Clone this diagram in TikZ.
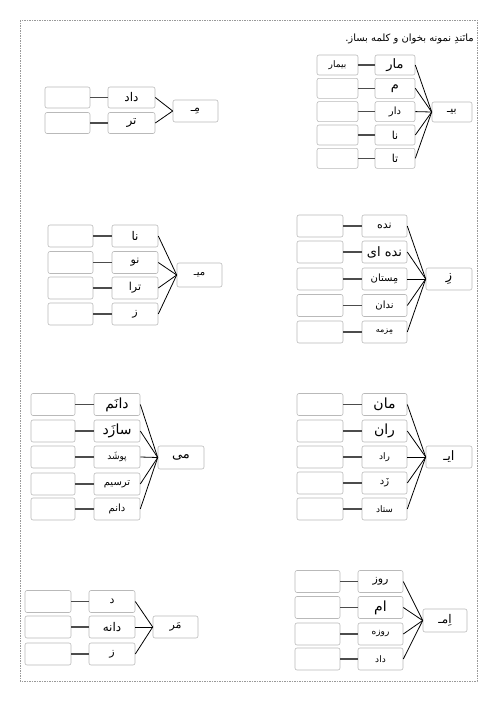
\documentclass[tikz,border=0pt]{standalone}
\usepackage{fontspec}
\newfontfamily\arabicfont[Script=Arabic]{DejaVu Sans}
\TeXXeTstate=1
\newcommand\ar[1]{\arabicfont\beginR #1\endR}
\tikzset{
  cell/.style={draw=gray!55, rounded corners=2pt, line width=0.6pt, inner sep=0pt, minimum height=\H pt},
  link/.style={draw=black!70, line width=1.1pt},
  spoke/.style={draw=black, line width=0.8pt},
  frame/.style={draw=gray!80, line width=1pt, dash pattern=on 1.5pt off 1pt}
}
\def\H{22}
\newcommand\grow[5]{%
  \node[cell, minimum width=\Lw pt] (#1L) at (\Lx,#2) {\fontsize{9}{9}\selectfont\ar{#5}};
  \node[cell, minimum width=\Mw pt] (#1M) at (\Mx,#2) {\fontsize{#3}{#3}\selectfont\ar{#4}};
  \draw[link] (#1L.east) -- (#1M.west);
}
\begin{document}
\begin{tikzpicture}[x=1pt,y=-1pt]
\useasboundingbox (0,0) rectangle (496,702);
\draw[frame] (20,20) rectangle (477,681);
\node[anchor=east, inner sep=0pt] (title) at (474,39) {\fontsize{10}{10}\selectfont\ar{مانَندِ نمونه بخوان و کلمه بساز.}};

% group 1
\def\H{20}\def\Lx{337.5}\def\Lw{41}\def\Mx{395}\def\Mw{40}
\grow{a1}{65}{13}{مار}{بیمار}
\grow{a2}{88.3}{13}{م}{}
\grow{a3}{111.6}{10}{دار}{}
\grow{a4}{135}{11}{نا}{}
\grow{a5}{158.3}{11}{تا}{}
\node[cell, minimum width=40pt] (aR) at (452,112) {\fontsize{11}{11}\selectfont\ar{بیـ}};
\foreach \n in {a1,a2,a3,a4,a5} \draw[spoke] (\n M.east) -- (aR.west);

% group 2
\def\H{21}\def\Lx{67.5}\def\Lw{45}\def\Mx{131.5}\def\Mw{47}
\grow{b1}{97.5}{12}{داد}{}
\grow{b2}{123}{12}{تر}{}
\def\H{22}
\node[cell, minimum width=45pt] (bR) at (195.5,111) {\fontsize{11}{11}\selectfont\ar{مِـ}};
\foreach \n in {b1,b2} \draw[spoke] (\n M.east) -- (bR.west);

% group 3
\def\H{22}\def\Lx{320}\def\Lw{46}\def\Mx{384.5}\def\Mw{45}
\grow{c1}{226}{11}{نده}{}
\grow{c2}{252}{13}{نده ای}{}
\grow{c3}{279}{10}{مِستان}{}
\grow{c4}{305.5}{10}{ندان}{}
\grow{c5}{332}{8}{مِزمه}{}
\node[cell, minimum width=46pt] (cR) at (449,279) {\fontsize{13}{13}\selectfont\ar{زِ}};
\foreach \n in {c1,c2,c3,c4,c5} \draw[spoke] (\n M.east) -- (cR.west);

% group 4
\def\H{22}\def\Lx{70.5}\def\Lw{45}\def\Mx{135}\def\Mw{46}
\grow{d1}{236}{12}{نا}{}
\grow{d2}{262.5}{11}{نو}{}
\grow{d3}{288}{11}{ترا}{}
\grow{d4}{314}{11}{ز}{}
\def\H{24}
\node[cell, minimum width=45pt] (dR) at (199.5,275) {\fontsize{10}{10}\selectfont\ar{میـ}};
\foreach \n in {d1,d2,d3,d4} \draw[spoke] (\n M.east) -- (dR.west);

% group 5
\def\H{22}\def\Lx{320}\def\Lw{46}\def\Mx{384.5}\def\Mw{45}
\grow{e1}{404.5}{14}{مان}{}
\grow{e2}{431}{14}{ران}{}
\grow{e3}{457}{9}{راد}{}
\grow{e4}{483}{10}{زَد}{}
\grow{e5}{509}{9}{ستاد}{}
\node[cell, minimum width=46pt] (eR) at (449,457) {\fontsize{13}{13}\selectfont\ar{ایـ}};
\foreach \n in {e1,e2,e3,e4,e5} \draw[spoke] (\n M.east) -- (eR.west);

% group 6
\def\H{22}\def\Lx{53}\def\Lw{44}\def\Mx{117}\def\Mw{46}
\grow{f1}{404.5}{14}{دانَم}{}
\grow{f2}{431}{14}{سازَد}{}
\grow{f3}{457}{9}{پوشَد}{}
\grow{f4}{484}{10}{ترسیم}{}
\grow{f5}{509}{10}{دانم}{}
\def\H{23}
\node[cell, minimum width=46pt] (fR) at (181,457.5) {\fontsize{13}{13}\selectfont\ar{می}};
\foreach \n in {f1,f2,f3,f4,f5} \draw[spoke] (\n M.east) -- (fR.west);

% group 7
\def\H{22}\def\Lx{317.5}\def\Lw{45}\def\Mx{380.5}\def\Mw{45}
\grow{g1}{581.5}{11}{روز}{}
\grow{g2}{607.5}{14}{ام}{}
\grow{g3}{634}{9}{روزه}{}
\grow{g4}{659}{9}{داد}{}
\def\H{23}
\node[cell, minimum width=44pt] (gR) at (445,620.5) {\fontsize{12}{12}\selectfont\ar{اِمـ}};
\foreach \n in {g1,g2,g3,g4} \draw[spoke] (\n M.east) -- (gR.west);

% group 8
\def\H{22}\def\Lx{48}\def\Lw{46}\def\Mx{112}\def\Mw{46}
\grow{h1}{601.5}{11}{د}{}
\grow{h2}{627}{12}{دانه}{}
\grow{h3}{654}{11}{ز}{}
\node[cell, minimum width=45pt] (hR) at (175.5,627) {\fontsize{11}{11}\selectfont\ar{مَر}};
\foreach \n in {h1,h2,h3} \draw[spoke] (\n M.east) -- (hR.west);
\end{tikzpicture}
\end{document}
